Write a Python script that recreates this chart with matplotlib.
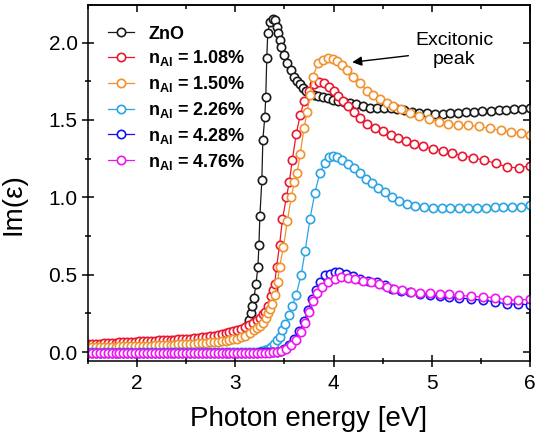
import matplotlib
matplotlib.use('Agg')
import matplotlib.pyplot as plt
from matplotlib.ticker import MultipleLocator, NullFormatter

plt.rcParams['font.family'] = ['Liberation Sans', 'DejaVu Sans']
plt.rcParams['mathtext.fontset'] = 'custom'
plt.rcParams['mathtext.rm'] = 'Liberation Sans'
plt.rcParams['mathtext.bf'] = 'Liberation Sans:bold'
plt.rcParams['mathtext.it'] = 'Liberation Sans:italic'

# ---------------- data ----------------
E_LOW = [1.50, 1.54, 1.58, 1.62, 1.66, 1.70, 1.74, 1.78, 1.82, 1.86,
         1.90, 1.94, 1.98, 2.02, 2.06, 2.10, 2.14, 2.18, 2.22, 2.26,
         2.30, 2.34, 2.38, 2.42, 2.46, 2.50, 2.54, 2.58, 2.62, 2.66,
         2.70, 2.74, 2.78, 2.82, 2.86, 2.90, 2.94, 2.98]

zno_low = [0.040, 0.041, 0.042, 0.042, 0.043, 0.044, 0.045, 0.046, 0.046, 0.047,
           0.048, 0.049, 0.050, 0.051, 0.052, 0.053, 0.053, 0.054, 0.055, 0.056,
           0.057, 0.058, 0.059, 0.060, 0.061, 0.062, 0.064, 0.065, 0.067, 0.069,
           0.071, 0.073, 0.076, 0.079, 0.083, 0.087, 0.092, 0.098]
zno_e_hi = [3.02, 3.05, 3.08, 3.10, 3.12, 3.14, 3.16, 3.17, 3.19, 3.21,
            3.23, 3.24, 3.25, 3.27, 3.28, 3.30, 3.31, 3.32, 3.33, 3.35,
            3.38, 3.40, 3.42, 3.43, 3.45, 3.47, 3.50, 3.53, 3.57, 3.60,
            3.63, 3.66, 3.69, 3.72, 3.76, 3.80, 3.84, 3.89, 3.94, 3.99,
            4.05, 4.11, 4.17, 4.23, 4.30, 4.37, 4.44, 4.51, 4.58, 4.65,
            4.72, 4.80, 4.87, 4.95, 5.03, 5.11, 5.19, 5.27, 5.35, 5.43,
            5.51, 5.60, 5.68, 5.76, 5.84, 5.92, 6.00]
zno_v_hi = [0.105, 0.115, 0.13, 0.145, 0.17, 0.205, 0.25, 0.30, 0.35, 0.44,
            0.55, 0.69, 0.88, 1.11, 1.37, 1.52, 1.65, 1.90, 2.06, 2.13,
            2.15, 2.145, 2.10, 2.06, 2.015, 1.97, 1.92, 1.865, 1.82, 1.78,
            1.75, 1.73, 1.705, 1.69, 1.67, 1.66, 1.655, 1.65, 1.64, 1.63,
            1.62, 1.615, 1.607, 1.60, 1.59, 1.58, 1.578, 1.576, 1.575, 1.57,
            1.562, 1.552, 1.548, 1.544, 1.541, 1.540, 1.544, 1.548, 1.550, 1.553,
            1.556, 1.560, 1.562, 1.565, 1.568, 1.571, 1.575]

al108_low = [0.050, 0.052, 0.053, 0.055, 0.056, 0.058, 0.059, 0.061, 0.062, 0.064,
             0.065, 0.067, 0.068, 0.070, 0.071, 0.072, 0.073, 0.074, 0.075, 0.076,
             0.077, 0.078, 0.080, 0.081, 0.083, 0.085, 0.087, 0.089, 0.092, 0.095,
             0.098, 0.101, 0.105, 0.109, 0.114, 0.120, 0.127, 0.135]
al108_e_hi = [3.02, 3.06, 3.10, 3.14, 3.18, 3.22, 3.25, 3.28, 3.30, 3.33,
              3.36, 3.38, 3.40, 3.42, 3.45, 3.48, 3.52, 3.55, 3.58, 3.62,
              3.66, 3.70, 3.75, 3.80, 3.85, 3.90, 3.95, 4.00, 4.05, 4.10,
              4.15, 4.21, 4.27, 4.34, 4.42, 4.50, 4.58, 4.66, 4.74, 4.82,
              4.91, 5.01, 5.11, 5.21, 5.31, 5.42, 5.53, 5.65, 5.77, 5.89,
              6.00]
al108_v_hi = [0.142, 0.150, 0.160, 0.172, 0.185, 0.205, 0.22, 0.245, 0.26, 0.30,
              0.36, 0.40, 0.44, 0.55, 0.69, 0.86, 1.00, 1.10, 1.24, 1.41,
              1.53, 1.62, 1.69, 1.73, 1.745, 1.74, 1.71, 1.69, 1.655, 1.625,
              1.59, 1.55, 1.51, 1.476, 1.45, 1.43, 1.405, 1.385, 1.365, 1.345,
              1.33, 1.315, 1.30, 1.285, 1.27, 1.255, 1.24, 1.22, 1.195, 1.19,
              1.205]

al150_low = [0.030, 0.031, 0.032, 0.032, 0.033, 0.034, 0.034, 0.035, 0.036, 0.036,
             0.037, 0.038, 0.039, 0.040, 0.041, 0.041, 0.042, 0.043, 0.044, 0.045,
             0.046, 0.047, 0.048, 0.049, 0.050, 0.051, 0.053, 0.054, 0.056, 0.058,
             0.060, 0.062, 0.064, 0.067, 0.070, 0.073, 0.077, 0.081]
al150_e_hi = [3.02, 3.06, 3.10, 3.15, 3.19, 3.22, 3.25, 3.28, 3.31, 3.33,
              3.35, 3.37, 3.40, 3.43, 3.45, 3.49, 3.53, 3.57, 3.60, 3.63,
              3.66, 3.70, 3.73, 3.76, 3.79, 3.84, 3.89, 3.94, 3.99, 4.04,
              4.09, 4.14, 4.20, 4.27, 4.34, 4.40, 4.47, 4.54, 4.61, 4.69,
              4.78, 4.87, 4.97, 5.07, 5.17, 5.27, 5.37, 5.48, 5.59, 5.70,
              5.81, 5.91, 6.00]
al150_v_hi = [0.086, 0.095, 0.105, 0.12, 0.14, 0.153, 0.17, 0.19, 0.22, 0.25,
              0.28, 0.31, 0.367, 0.45, 0.55, 0.68, 0.85, 1.0, 1.10, 1.16,
              1.28, 1.45, 1.55, 1.66, 1.78, 1.865, 1.89, 1.90, 1.895, 1.88,
              1.855, 1.82, 1.78, 1.74, 1.69, 1.66, 1.635, 1.61, 1.59, 1.57,
              1.545, 1.525, 1.505, 1.49, 1.475, 1.468, 1.465, 1.458, 1.445, 1.433,
              1.422, 1.415, 1.40]

al226_low = [-0.003, -0.003, -0.003, -0.004, -0.003, -0.003, -0.003, -0.004, -0.003, -0.003,
             -0.003, -0.003, -0.004, -0.003, -0.003, -0.003, -0.003, -0.003, -0.004, -0.003,
             -0.003, -0.003, -0.003, -0.003, -0.003, -0.003, -0.003, -0.002, -0.003, -0.003,
             -0.002, -0.002, -0.003, -0.002, -0.002, -0.002, -0.002, -0.002]
al226_e_hi = [3.02, 3.06, 3.10, 3.14, 3.18, 3.22, 3.26, 3.30, 3.33, 3.36,
              3.39, 3.42, 3.45, 3.48, 3.51, 3.55, 3.58, 3.62, 3.67, 3.71,
              3.76, 3.81, 3.86, 3.91, 3.95, 3.99, 4.04, 4.09, 4.15, 4.21,
              4.27, 4.33, 4.39, 4.45, 4.52, 4.59, 4.67, 4.75, 4.83, 4.92,
              5.01, 5.10, 5.19, 5.28, 5.37, 5.46, 5.55, 5.64, 5.73, 5.82,
              5.91, 6.00]
al226_v_hi = [-0.002, -0.002, -0.001, 0.0, 0.0, 0.002, 0.005, 0.01, 0.02, 0.035,
              0.055, 0.075, 0.10, 0.14, 0.18, 0.24, 0.30, 0.37, 0.50, 0.65,
              0.86, 1.03, 1.155, 1.22, 1.26, 1.265, 1.26, 1.24, 1.215, 1.187,
              1.155, 1.12, 1.09, 1.06, 1.033, 1.0, 0.975, 0.958, 0.945, 0.938,
              0.933, 0.93, 0.928, 0.928, 0.928, 0.93, 0.933, 0.935, 0.935, 0.937,
              0.94, 0.948]

al428_low = [-0.005, -0.005, -0.006, -0.005, -0.005, -0.005, -0.006, -0.005, -0.005, -0.005,
             -0.005, -0.006, -0.005, -0.005, -0.005, -0.005, -0.006, -0.005, -0.005, -0.005,
             -0.005, -0.005, -0.006, -0.005, -0.005, -0.005, -0.005, -0.005, -0.005, -0.006,
             -0.005, -0.005, -0.005, -0.005, -0.005, -0.005, -0.005, -0.005]
al428_e_hi = [3.02, 3.06, 3.10, 3.14, 3.18, 3.22, 3.26, 3.30, 3.34, 3.38,
              3.42, 3.46, 3.50, 3.55, 3.60, 3.65, 3.70, 3.74, 3.78, 3.82,
              3.86, 3.91, 3.96, 4.01, 4.06, 4.13, 4.20, 4.27, 4.35, 4.44,
              4.52, 4.60, 4.69, 4.78, 4.88, 4.98, 5.08, 5.18, 5.28, 5.40,
              5.52, 5.64, 5.77, 5.88, 6.00]
al428_v_hi = [-0.005, -0.005, -0.005, -0.004, -0.004, -0.004, -0.003, -0.003, -0.002, 0.0,
              0.003, 0.008, 0.02, 0.045, 0.085, 0.135, 0.20, 0.27, 0.34, 0.40,
              0.453, 0.496, 0.507, 0.517, 0.517, 0.507, 0.489, 0.475, 0.462, 0.45,
              0.43, 0.41, 0.395, 0.385, 0.375, 0.37, 0.365, 0.357, 0.35, 0.342,
              0.335, 0.325, 0.31, 0.31, 0.305]

al476_low = [-0.008, -0.008, -0.009, -0.008, -0.008, -0.008, -0.009, -0.008, -0.008, -0.008,
             -0.008, -0.009, -0.008, -0.008, -0.008, -0.008, -0.008, -0.009, -0.008, -0.008,
             -0.008, -0.008, -0.008, -0.009, -0.008, -0.008, -0.008, -0.008, -0.008, -0.008,
             -0.009, -0.008, -0.008, -0.008, -0.008, -0.008, -0.008, -0.008]
al476_e_hi = [3.02, 3.06, 3.10, 3.14, 3.18, 3.22, 3.26, 3.30, 3.34, 3.38,
              3.42, 3.47, 3.52, 3.57, 3.62, 3.67, 3.71, 3.75, 3.79, 3.83,
              3.88, 3.94, 4.01, 4.08, 4.15, 4.22, 4.30, 4.38, 4.46, 4.54,
              4.62, 4.70, 4.79, 4.88, 4.98, 5.08, 5.18, 5.28, 5.40, 5.52,
              5.64, 5.77, 5.88, 6.00]
al476_v_hi = [-0.008, -0.008, -0.007, -0.007, -0.007, -0.006, -0.006, -0.005, -0.004, -0.003,
              0.0, 0.005, 0.02, 0.045, 0.08, 0.13, 0.19, 0.26, 0.33, 0.38,
              0.42, 0.45, 0.47, 0.483, 0.48, 0.472, 0.462, 0.452, 0.442, 0.422,
              0.407, 0.398, 0.387, 0.381, 0.38, 0.378, 0.372, 0.366, 0.36, 0.356,
              0.352, 0.336, 0.337, 0.34]

labels = ['ZnO',
          r'n$_{\mathbf{Al}}$ = 1.08%',
          r'n$_{\mathbf{Al}}$ = 1.50%',
          r'n$_{\mathbf{Al}}$ = 2.26%',
          r'n$_{\mathbf{Al}}$ = 4.28%',
          r'n$_{\mathbf{Al}}$ = 4.76%']
colors = ['#1a1a1a', '#e8182f', '#f0922e', '#2ba4e4', '#1414f0', '#f014f0']

series = [
    (E_LOW + zno_e_hi, zno_low + zno_v_hi),
    (E_LOW + al108_e_hi, al108_low + al108_v_hi),
    (E_LOW + al150_e_hi, al150_low + al150_v_hi),
    (E_LOW + al226_e_hi, al226_low + al226_v_hi),
    (E_LOW + al428_e_hi, al428_low + al428_v_hi),
    (E_LOW + al476_e_hi, al476_low + al476_v_hi),
]

# ---------------- figure ----------------
fig = plt.figure(figsize=(5.42, 4.44), dpi=100)
ax = fig.add_axes([88/542, 1-361/444, (530-88)/542, (361-5)/444])

for (x, y), c, lab in zip(series, colors, labels):
    ax.plot(x, y, '-', color=c, lw=0.9, marker='o', markersize=6,
            markerfacecolor='white', markeredgecolor=c, markeredgewidth=1.2,
            label=lab)

ax.set_xlim(1.5, 6.0)
ax.set_ylim(-0.058, 2.243)
ax.xaxis.set_major_locator(MultipleLocator(1))
ax.xaxis.set_minor_locator(MultipleLocator(0.5))
ax.yaxis.set_major_locator(MultipleLocator(0.5))
ax.yaxis.set_minor_locator(MultipleLocator(0.25))
ax.tick_params(which='major', direction='inout', length=9, width=1.1,
               labelsize=15, top=False, right=False)
ax.tick_params(axis='x', which='major', pad=5)
ax.tick_params(axis='y', which='major', pad=3)
ax.tick_params(which='minor', direction='inout', length=5, width=1.1,
               top=False, right=False)
for s in ax.spines.values():
    s.set_linewidth(1.1)

secx = ax.secondary_xaxis('top')
secx.xaxis.set_major_locator(MultipleLocator(1))
secx.xaxis.set_minor_locator(MultipleLocator(0.5))
secx.xaxis.set_major_formatter(NullFormatter())
secx.tick_params(which='major', direction='in', length=5, width=1.1)
secx.tick_params(which='minor', direction='in', length=3, width=1.1)
secx.spines['top'].set_linewidth(1.1)
secy = ax.secondary_yaxis('right')
secy.yaxis.set_major_locator(MultipleLocator(0.5))
secy.yaxis.set_minor_locator(MultipleLocator(0.25))
secy.yaxis.set_major_formatter(NullFormatter())
secy.tick_params(which='major', direction='in', length=5, width=1.1)
secy.tick_params(which='minor', direction='in', length=3, width=1.1)
secy.spines['right'].set_linewidth(1.1)

ax.set_xlabel('Photon energy [eV]', fontsize=20, labelpad=9)
ax.set_ylabel('Im(ε)', fontsize=20)
ax.yaxis.set_label_coords(-0.14, 0.44)

leg = ax.legend(loc='upper left', bbox_to_anchor=(0.046, 0.942), frameon=False,
                handlelength=1.4, handletextpad=0.8, labelspacing=0.32,
                borderpad=0, borderaxespad=0,
                prop={'weight': 'bold', 'size': 13})

ax.annotate('Excitonic\npeak', xy=(4.19, 1.873), xytext=(5.23, 1.95),
            ha='center', va='center', fontsize=14, linespacing=1.15,
            arrowprops=dict(arrowstyle='-|>', color='black', lw=1.0,
                            shrinkA=3, shrinkB=0, mutation_scale=14))

fig.savefig('out.png', dpi=100)
